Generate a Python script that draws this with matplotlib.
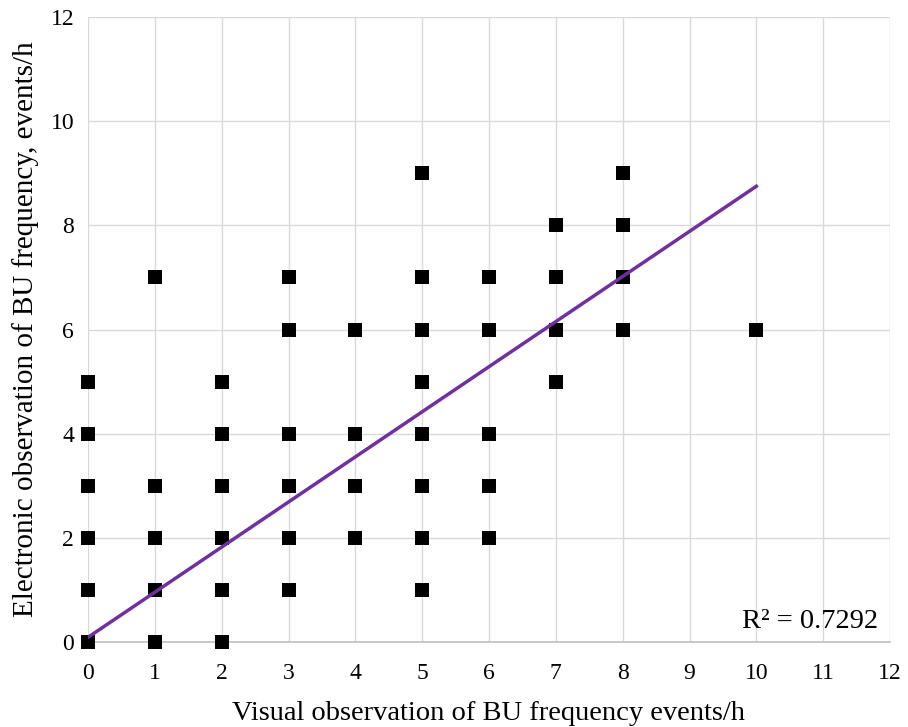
import matplotlib.pyplot as plt

plt.rcParams['font.family'] = ['Liberation Serif', 'DejaVu Serif']

# observed points: visual (x) vs electronic (y), events/h
visual_obs = [0, 0, 0, 0, 0, 0,
              1, 1, 1, 1, 1,
              2, 2, 2, 2, 2, 2,
              3, 3, 3, 3, 3, 3,
              4, 4, 4, 4,
              5, 5, 5, 5, 5, 5, 5, 5,
              6, 6, 6, 6, 6,
              7, 7, 7, 7,
              8, 8, 8, 8,
              10]
electronic_obs = [0, 1, 2, 3, 4, 5,
                  0, 1, 2, 3, 7,
                  0, 1, 2, 3, 4, 5,
                  1, 2, 3, 4, 6, 7,
                  2, 3, 4, 6,
                  1, 2, 3, 4, 5, 6, 7, 9,
                  2, 3, 4, 6, 7,
                  5, 6, 7, 8,
                  6, 7, 8, 9,
                  6]

# linear trendline end points
trend_x = [0, 10]
trend_y = [0.09, 8.75]
r2_label = 'R² = 0.7292'

fig = plt.figure(figsize=(9.08, 7.27), dpi=100)
ax = fig.add_axes([88 / 908, 1 - 642 / 727, (890 - 88) / 908, (642 - 17) / 727])

ax.scatter(visual_obs, electronic_obs, marker='s', s=110, color='black',
           zorder=3, clip_on=False, linewidths=0)
ax.plot(trend_x, trend_y, color='#7030A0', linewidth=2.5, zorder=4)

ax.set_xlim(0, 12)
ax.set_ylim(0, 12)
ax.set_xticks(range(0, 13))
ax.set_yticks(range(0, 13, 2))
ax.grid(True, color='#D9D9D9', linewidth=1)
ax.set_axisbelow(True)
for side in ['top', 'right', 'left']:
    ax.spines[side].set_visible(False)
ax.spines['bottom'].set_color('#BFBFBF')
ax.spines['bottom'].set_linewidth(1.2)
ax.tick_params(length=0, labelsize=17)
ax.tick_params(axis='x', pad=15)
ax.tick_params(axis='y', pad=10)

ax.set_xlabel('Visual observation of BU frequency events/h', fontsize=20.5, labelpad=12)
ax.set_ylabel('Electronic observation of BU frequency, events/h', fontsize=21, labelpad=8)

ax.text(0.985, 0.012, r2_label, transform=ax.transAxes,
        ha='right', va='bottom', fontsize=20.5)

fig.savefig('out.png', dpi=100)
